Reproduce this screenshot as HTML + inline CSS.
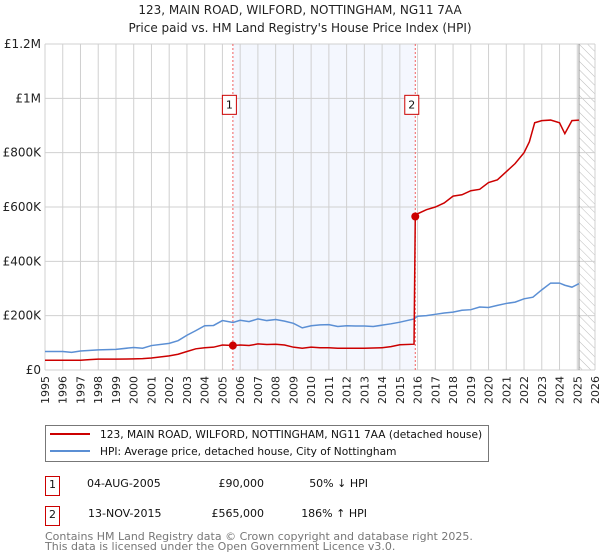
<!DOCTYPE html>
<html><head><meta charset="utf-8">
<style>
body{margin:0;background:#fff;font-family:"DejaVu Sans","Liberation Sans",sans-serif;}
svg{display:block}
</style></head>
<body>
<svg id="chart" width="600" height="560" xmlns="http://www.w3.org/2000/svg" font-family="DejaVu Sans, Liberation Sans, sans-serif">
<defs>
<pattern id="hatch" width="6" height="6" patternUnits="userSpaceOnUse" patternTransform="rotate(-45)">
<line x1="0" y1="0" x2="0" y2="6" stroke="#bbb" stroke-width="1"/>
</pattern>
</defs>
<text x="300" y="14" text-anchor="middle" font-size="12" fill="#222">123, MAIN ROAD, WILFORD, NOTTINGHAM, NG11 7AA</text>
<text x="300" y="32" text-anchor="middle" font-size="12" fill="#222">Price paid vs. HM Land Registry's House Price Index (HPI)</text>
<g id="plot"></g>
<g>
<rect x="45.5" y="425.5" width="443" height="36" fill="#fff" stroke="#777"/>
<line x1="50" y1="434" x2="90" y2="434" stroke="#cc0000" stroke-width="2"/>
<text x="100" y="438" font-size="10.6" fill="#111">123, MAIN ROAD, WILFORD, NOTTINGHAM, NG11 7AA (detached house)</text>
<line x1="50" y1="451" x2="90" y2="451" stroke="#5b8fd4" stroke-width="2"/>
<text x="100" y="455" font-size="10.6" fill="#111">HPI: Average price, detached house, City of Nottingham</text>
</g>
<g font-size="11" fill="#111">
<rect x="45.5" y="476.5" width="14" height="19" fill="#fff" stroke="#cc0000"/>
<text x="52.5" y="488" text-anchor="middle">1</text>
<text x="87" y="487">04-AUG-2005</text>
<text x="264" y="487" text-anchor="end">£90,000</text>
<text x="368" y="487" text-anchor="end">50% ↓ HPI</text>
<rect x="45.5" y="506.5" width="14" height="19" fill="#fff" stroke="#cc0000"/>
<text x="52.5" y="518" text-anchor="middle">2</text>
<text x="88" y="517">13-NOV-2015</text>
<text x="264" y="517" text-anchor="end">£565,000</text>
<text x="367" y="517" text-anchor="end">186% ↑ HPI</text>
</g>
<text x="45" y="540" font-size="11" fill="#777">Contains HM Land Registry data © Crown copyright and database right 2025.</text>
<text x="45" y="550" font-size="11" fill="#777">This data is licensed under the Open Government Licence v3.0.</text>
</svg>
<script>
const yTicks=[0,200,400,600,800,1000,1200];
const yTickLabels=["£0","£200K","£400K","£600K","£800K","£1M","£1.2M"];
const xYears=[1995,1996,1997,1998,1999,2000,2001,2002,2003,2004,2005,2006,2007,2008,2009,2010,2011,2012,2013,2014,2015,2016,2017,2018,2019,2020,2021,2022,2023,2024,2025,2026];
const saleDates=[2005.59,2015.87];
const saleValues=[90,565];
const saleLabels=["1","2"];
const hpiYears=[1995,1996,1996.5,1997,1998,1999,2000,2000.5,2001,2002,2002.5,2003,2003.5,2004,2004.5,2005,2005.6,2006,2006.5,2007,2007.5,2008,2008.5,2009,2009.5,2010,2010.5,2011,2011.5,2012,2012.5,2013,2013.5,2014,2014.5,2015,2015.8,2016,2016.5,2017,2017.5,2018,2018.5,2019,2019.5,2020,2020.5,2021,2021.5,2022,2022.5,2023,2023.5,2024,2024.3,2024.7,2025.1];
const hpiVals=[68,68,65,70,74,76,83,80,90,98,108,128,145,163,164,182,175,183,178,188,182,186,180,172,155,163,166,167,160,163,162,162,160,165,170,176,188,198,200,205,210,213,220,222,232,230,238,245,250,262,268,295,320,320,312,305,318,322];
const ppYears=[1995,1996,1997,1997.5,1998,1999,2000,2000.5,2001,2002,2002.5,2003,2003.5,2004,2004.5,2005,2005.59,2006,2006.5,2007,2007.5,2008,2008.5,2009,2009.5,2010,2010.5,2011,2011.5,2012,2013,2014,2014.5,2015,2015.8,2015.87,2016,2016.5,2017,2017.5,2018,2018.5,2019,2019.5,2020,2020.5,2021,2021.5,2022,2022.3,2022.6,2023,2023.5,2024,2024.3,2024.7,2025.1];
const ppVals=[36,36,36,38,40,40,41,42,44,52,58,68,78,82,84,92,90,92,90,96,94,95,92,84,80,84,82,82,80,80,80,82,86,93,95,565,575,590,600,615,640,645,660,665,690,700,730,760,800,840,910,918,920,910,870,918,920];

const X0=45,X1=595,Y0=370,Y1=44;
function xs(y){return X0+(y-1995)/(2026-1995)*(X1-X0);}
function ys(v){return Y0-v/1200*(Y0-Y1);}
const NS="http://www.w3.org/2000/svg";
const plot=document.getElementById('plot');
function mk(tag,attrs,parent){const e=document.createElementNS(NS,tag);for(const k in attrs)e.setAttribute(k,attrs[k]);(parent||plot).appendChild(e);return e;}

let sh=mk('rect',{x:xs(saleDates[0]),y:Y1,width:xs(saleDates[1])-xs(saleDates[0]),height:Y0-Y1,fill:'#f4f7fe'});


let ht=mk('rect',{x:xs(2025.1),y:Y1,width:X1-xs(2025.1),height:Y0-Y1,fill:'url(#hatch)'});



xYears.forEach(yr=>{
  let l=mk('line',{x1:xs(yr),x2:xs(yr),y1:Y1,y2:Y0,stroke:'#d0d0d0','stroke-width':1});
  
  
  let t=mk('text',{x:0,y:0,'font-size':11,fill:'#222','text-anchor':'end',transform:`translate(${xs(yr)+4},${Y0+6}) rotate(-90)`});
  t.textContent=yr;
  
  
});
yTicks.forEach((v,i)=>{
  let l=mk('line',{x1:X0,x2:X1,y1:ys(v),y2:ys(v),stroke:'#d0d0d0','stroke-width':1});
  
  
  let t=mk('text',{x:X0-4,y:ys(v)+4,'font-size':12,fill:'#222','text-anchor':'end'});
  t.textContent=yTickLabels[i];
  
  
});
let nl=mk('line',{x1:xs(2025.1),x2:xs(2025.1),y1:Y1,y2:Y0,stroke:'#999','stroke-width':1});



saleDates.forEach((d,i)=>{
  let l=mk('line',{x1:xs(d),x2:xs(d),y1:Y1,y2:Y0,stroke:'#f06060','stroke-width':1,'stroke-dasharray':'2,2'});
  
  
  let r=mk('rect',{x:xs(d)-10.5,y:ys(1000)-3,width:14,height:19,fill:'#fff',stroke:'#cc0000'});
  
  
  let t=mk('text',{x:xs(d)-3.5,y:ys(1000)+10,'font-size':11,'text-anchor':'middle',fill:'#111'});
  t.textContent=saleLabels[i];
  
  
});

let hp=mk('polyline',{points:hpiYears.map((y,i)=>xs(y)+','+ys(hpiVals[i])).join(' '),fill:'none',stroke:'#5b8fd4','stroke-width':1.5});


let pp=mk('polyline',{points:ppYears.map((y,i)=>xs(y)+','+ys(ppVals[i])).join(' '),fill:'none',stroke:'#cc0000','stroke-width':1.5});


saleDates.forEach((d,i)=>{
  let c=mk('circle',{cx:xs(d),cy:ys(saleValues[i]),r:4,fill:'#cc0000'});
  
  
});
</script>
</body></html>
